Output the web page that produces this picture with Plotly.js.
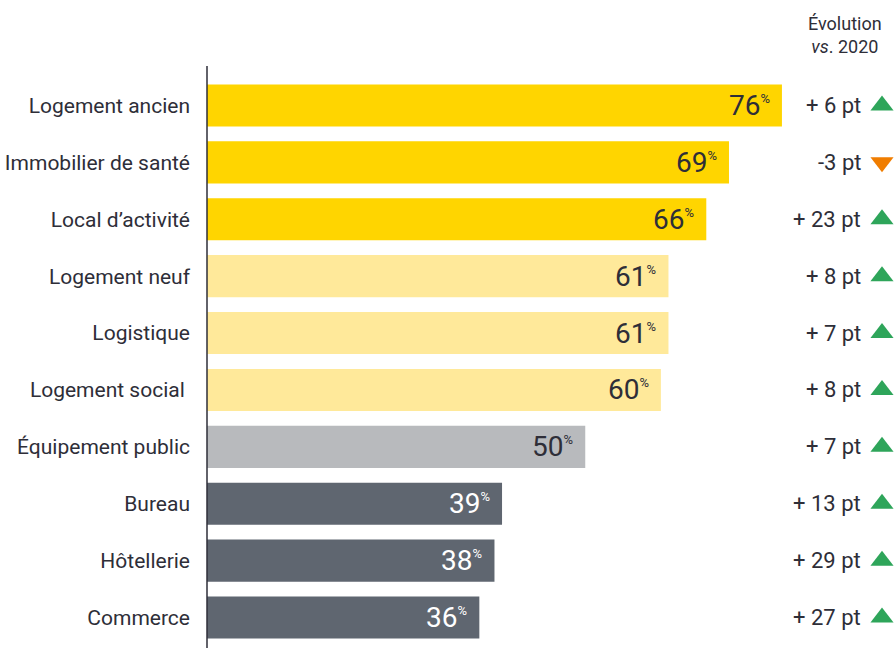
<!DOCTYPE html>
<html><head><meta charset="utf-8">
<script src="https://cdn.plot.ly/plotly-3.0.1.min.js"></script>
<style>html,body{margin:0;padding:0;background:#fff}</style>
</head><body><div id="chart" style="width:896px;height:648px"></div>
<script>
const categories = ["Logement ancien","Immobilier de santé","Local d’activité","Logement neuf","Logistique","Logement social\u00a0","Équipement public","Bureau","Hôtellerie","Commerce"];
const values = [76,69,66,61,61,60,50,39,38,36];
const evolution = [6,-3,23,8,7,8,7,13,29,27];
const groups = ["top","top","top","mid","mid","mid","neutral","low","low","low"];

const groupColor = {top:"#FFD500", mid:"#FFE99A", neutral:"#B8BABD", low:"#5F6670"};
const groupText = {top:"#2E2E38", mid:"#2E2E38", neutral:"#2E2E38", low:"#FFFFFF"};
const FONT = "Roboto, 'Noto Sans', sans-serif";
const TXT = "#2E2E38";

const L = 207, W = 896, xPerUnit = 7.565;
const plotW = W - L;
const xmax = plotW / xPerUnit;

const trace = {
  type: "bar", orientation: "h",
  y: categories, x: values,
  marker: {color: groups.map(g => groupColor[g])},
  width: 0.74,
  hoverinfo: "skip"
};

const triTrace = {
  type: "scatter", mode: "markers",
  xaxis: "x2", y: categories,
  x: evolution.map(() => (882 - L) / plotW),
  marker: {
    symbol: evolution.map(v => v >= 0 ? "triangle-up" : "triangle-down"),
    color: evolution.map(v => v >= 0 ? "#2EA55A" : "#F07D00"),
    size: 20, line: {width: 0}
  },
  hoverinfo: "skip"
};

const annotations = [];
values.forEach((v, i) => {
  annotations.push({
    xref: "x", yref: "y", x: v, y: categories[i],
    xanchor: "right", yanchor: "middle", xshift: -10, yshift: 0,
    showarrow: false,
    text: v + "<sup><span style='font-size:13px'>%</span></sup>",
    font: {family: FONT, size: 28, color: groupText[groups[i]]}
  });
  const e = evolution[i];
  annotations.push({
    xref: "paper", yref: "y", x: (863 - L) / plotW, y: categories[i],
    xanchor: "right", yanchor: "middle", showarrow: false,
    text: (e >= 0 ? "+ " + e : String(e)) + " pt",
    font: {family: FONT, size: 22, color: TXT}
  });
});
annotations.push({
  xref: "paper", yref: "paper", x: (845 - L) / plotW, y: 1, yshift: 18,
  xanchor: "center", yanchor: "bottom", showarrow: false, align: "center",
  text: "Évolution<br><i>vs</i>. 2020",
  font: {family: FONT, size: 18, color: TXT}
});

const layout = {
  width: 896, height: 648,
  margin: {l: L, r: 0, t: 77, b: 2, pad: 0},
  paper_bgcolor: "#fff", plot_bgcolor: "#fff",
  showlegend: false,
  bargap: 0.26,
  xaxis: {range: [0, xmax], visible: false, fixedrange: true},
  xaxis2: {range: [0, 1], overlaying: "x", visible: false, fixedrange: true},
  yaxis: {
    type: "category", range: [categories.length - 0.5, -0.5], showgrid: false, zeroline: false,
    showline: false, ticks: "", ticklabelstandoff: 16,
    tickfont: {family: FONT, size: 21, color: TXT}
  },
  shapes: [{type: "line", xref: "paper", yref: "paper", x0: 0, x1: 0,
    y0: -0.005, y1: 1.0195, line: {color: "#2E2E38", width: 1.5}}],
  annotations: annotations
};

Plotly.newPlot("chart", [trace, triTrace], layout, {displayModeBar: false, staticPlot: true});
</script></body></html>
